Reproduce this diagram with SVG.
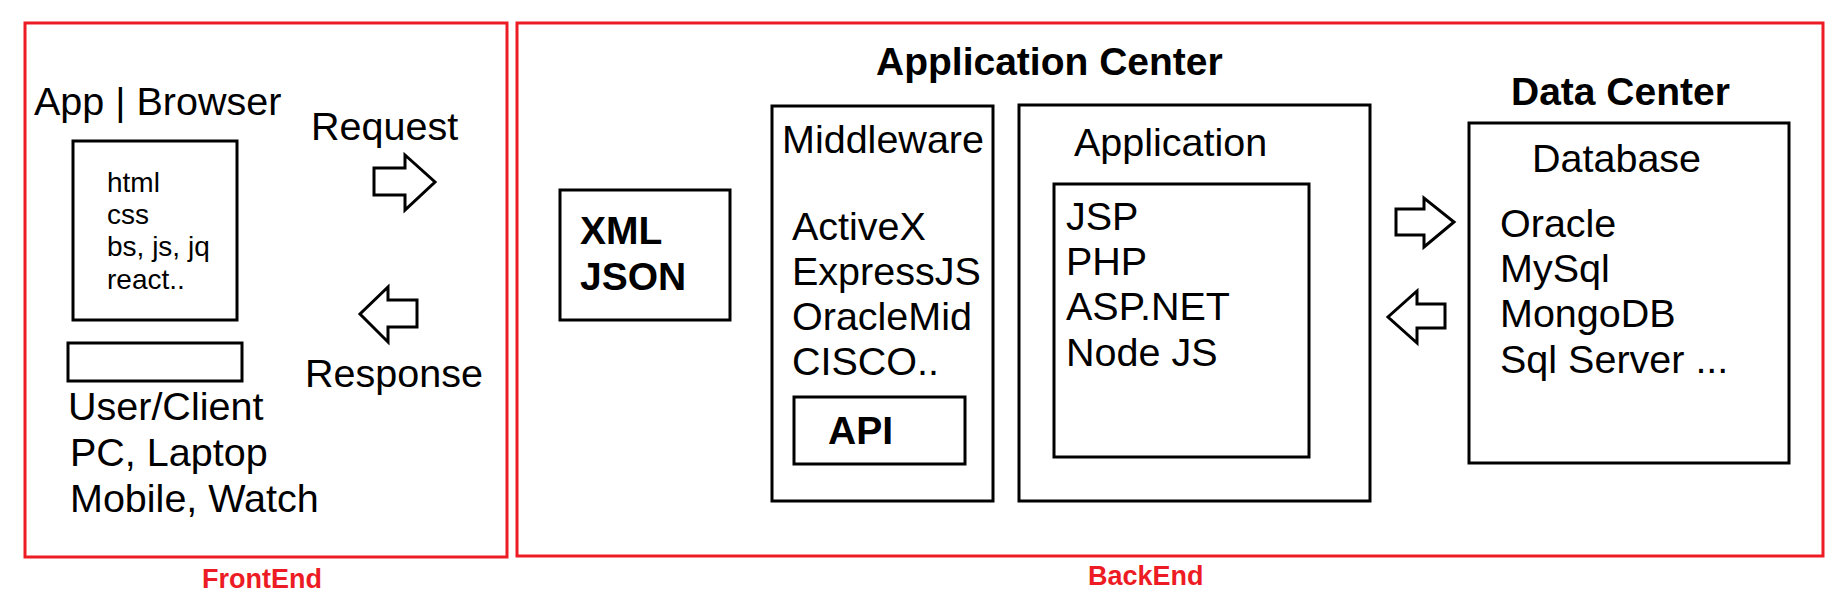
<svg xmlns="http://www.w3.org/2000/svg" width="1834" height="602" viewBox="0 0 1834 602">
<style>
text{font-family:"Liberation Sans",Arial,sans-serif;fill:#000}
.t{font-size:39.5px}
.s{font-size:28px}
.b{font-size:39px;font-weight:bold}
.red{fill:none;stroke:#ed1c24;stroke-width:3}
.box{fill:none;stroke:#000;stroke-width:3}
.arr{fill:#fff;stroke:#000;stroke-width:3;stroke-linejoin:miter}
.lbl{font-size:27px;font-weight:bold;fill:#ed1c24}
</style>
<rect width="1834" height="602" fill="#fff"/>
<g id="frontend">
<rect class="red" x="25" y="23" width="482" height="534"/>
<text class="lbl" x="202" y="588">FrontEnd</text>
</g>
<g id="backend">
<rect class="red" x="517" y="23" width="1306" height="533"/>
<text class="lbl" x="1088" y="585">BackEnd</text>
</g>
<g id="app-browser">
<text class="t" x="34" y="115">App | Browser</text>
<rect class="box" x="73" y="141" width="164" height="179"/>
<text class="s" x="107" y="192">html</text>
<text class="s" x="107" y="224">css</text>
<text class="s" x="107" y="256">bs, js, jq</text>
<text class="s" x="107" y="289">react..</text>
</g>
<g id="user-client">
<rect class="box" x="68" y="343" width="174" height="38"/>
<text class="t" x="68" y="420">User/Client</text>
<text class="t" x="70" y="466">PC, Laptop</text>
<text class="t" x="70" y="512">Mobile, Watch</text>
</g>
<g id="request">
<text class="t" x="311" y="140">Request</text>
</g>
<g id="response">
<text class="t" x="305" y="387">Response</text>
</g>
<g id="xml-json">
<rect class="box" x="560" y="190" width="170" height="130"/>
<text class="b" x="580" y="244">XML</text>
<text class="b" x="580" y="290">JSON</text>
</g>
<g id="application-center">
<text class="b" x="876" y="75">Application Center</text>
</g>
<g id="middleware">
<rect class="box" x="772" y="106" width="221" height="395"/>
<text class="t" x="782" y="153">Middleware</text>
<text class="t" x="792" y="240">ActiveX</text>
<text class="t" x="792" y="285">ExpressJS</text>
<text class="t" x="792" y="330">OracleMid</text>
<text class="t" x="792" y="375">CISCO..</text>
</g>
<g id="api">
<rect class="box" x="794" y="397" width="171" height="67"/>
<text class="b" x="828" y="444">API</text>
</g>
<g id="application">
<rect class="box" x="1019" y="105" width="351" height="396"/>
<text class="t" x="1074" y="156">Application</text>
<rect class="box" x="1054" y="184" width="255" height="273"/>
<text class="t" x="1066" y="230">JSP</text>
<text class="t" x="1066" y="275">PHP</text>
<text class="t" x="1066" y="320">ASP.NET</text>
<text class="t" x="1066" y="366">Node JS</text>
</g>
<g id="data-center">
<text class="b" x="1511" y="105">Data Center</text>
</g>
<g id="database">
<rect class="box" x="1469" y="123" width="320" height="340"/>
<text class="t" x="1532" y="172">Database</text>
<text class="t" x="1500" y="237">Oracle</text>
<text class="t" x="1500" y="282">MySql</text>
<text class="t" x="1500" y="327">MongoDB</text>
<text class="t" x="1500" y="373">Sql Server ...</text>
</g>
<g id="connectors">
<polygon class="arr" points="374,168 405,168 405,155 435,182 405,210 405,195 374,195"/>
<polygon class="arr" points="417,300 388,300 388,287 360,314 388,342 388,327 417,327"/>
<polygon class="arr" points="1396,209 1424,209 1424,198 1454,222 1424,247 1424,235 1396,235"/>
<polygon class="arr" points="1445,304 1417,304 1417,291 1388,317 1417,343 1417,328 1445,328"/>
</g>
</svg>
